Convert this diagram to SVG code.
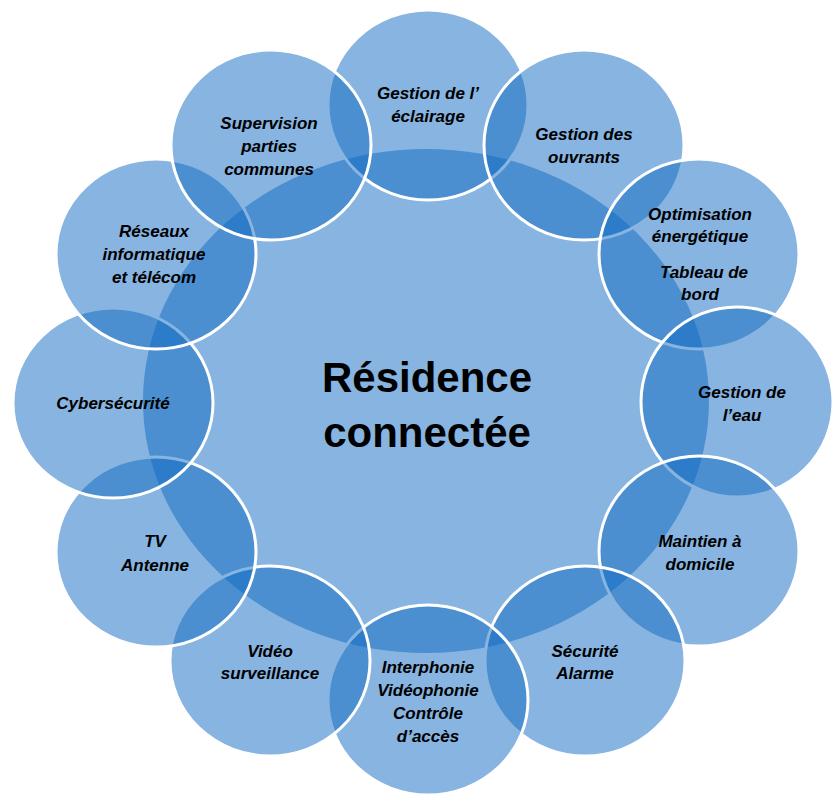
<svg xmlns="http://www.w3.org/2000/svg" width="833" height="795" viewBox="0 0 833 795">
<style>
.c{fill:rgb(15,105,193);fill-opacity:0.5;}
.o{fill:rgb(15,105,193);fill-opacity:0.5;stroke:#fff;stroke-width:3;}
.t{font-family:"Liberation Sans",Arial,sans-serif;font-weight:bold;font-style:italic;font-size:17px;fill:#000;text-anchor:middle;}
.m{font-family:"Liberation Sans",Arial,sans-serif;font-weight:bold;font-size:42px;fill:#000;text-anchor:middle;}
</style>
<rect width="833" height="795" fill="#fff"/>
<g id="center">
<ellipse class="c" cx="426" cy="401" rx="283" ry="252"/>
<text class="m" x="427" y="392">Résidence</text>
<text class="m" x="427" y="447">connectée</text>
</g>
<g id="eclairage">
<ellipse class="o" cx="428" cy="105" rx="100" ry="95"/>
<text class="t" x="428" y="99">Gestion de l’</text>
<text class="t" x="428" y="122">éclairage</text>
</g>
<g id="ouvrants">
<ellipse class="o" cx="584" cy="145" rx="100" ry="95"/>
<text class="t" x="584" y="140">Gestion des</text>
<text class="t" x="584" y="163">ouvrants</text>
</g>
<g id="optimisation">
<ellipse class="o" cx="699" cy="254" rx="100" ry="95"/>
<text class="t" x="700" y="220">Optimisation</text>
<text class="t" x="700" y="242">énergétique</text>
<text class="t" x="704" y="278">Tableau de</text>
<text class="t" x="700" y="300">bord</text>
</g>
<g id="eau">
<ellipse class="o" cx="737" cy="402" rx="96" ry="95"/>
<text class="t" x="742" y="398">Gestion de</text>
<text class="t" x="742" y="421">l’eau</text>
</g>
<g id="maintien">
<ellipse class="o" cx="699" cy="551" rx="100" ry="95"/>
<text class="t" x="700" y="547">Maintien à</text>
<text class="t" x="700" y="570">domicile</text>
</g>
<g id="securite">
<ellipse class="o" cx="585" cy="661" rx="100" ry="95"/>
<text class="t" x="585" y="657">Sécurité</text>
<text class="t" x="585" y="679">Alarme</text>
</g>
<g id="interphonie">
<ellipse class="o" cx="428" cy="700" rx="100" ry="95"/>
<text class="t" x="428" y="673">Interphonie</text>
<text class="t" x="428" y="696">Vidéophonie</text>
<text class="t" x="428" y="719">Contrôle</text>
<text class="t" x="428" y="742">d’accès</text>
</g>
<g id="video">
<ellipse class="o" cx="270" cy="661" rx="100" ry="95"/>
<text class="t" x="270" y="657">Vidéo</text>
<text class="t" x="270" y="679">surveillance</text>
</g>
<g id="tv">
<ellipse class="o" cx="156" cy="552" rx="100" ry="95"/>
<text class="t" x="155" y="547">TV</text>
<text class="t" x="155" y="571">Antenne</text>
</g>
<g id="cyber">
<ellipse class="o" cx="113" cy="403" rx="100" ry="95"/>
<text class="t" x="113" y="409">Cybersécurité</text>
</g>
<g id="reseaux">
<ellipse class="o" cx="156" cy="254" rx="100" ry="95"/>
<text class="t" x="154" y="237">Réseaux</text>
<text class="t" x="154" y="260">informatique</text>
<text class="t" x="154" y="283">et télécom</text>
</g>
<g id="supervision">
<ellipse class="o" cx="271" cy="145" rx="100" ry="95"/>
<text class="t" x="269" y="129">Supervision</text>
<text class="t" x="269" y="152">parties</text>
<text class="t" x="269" y="175">communes</text>
</g>
</svg>
